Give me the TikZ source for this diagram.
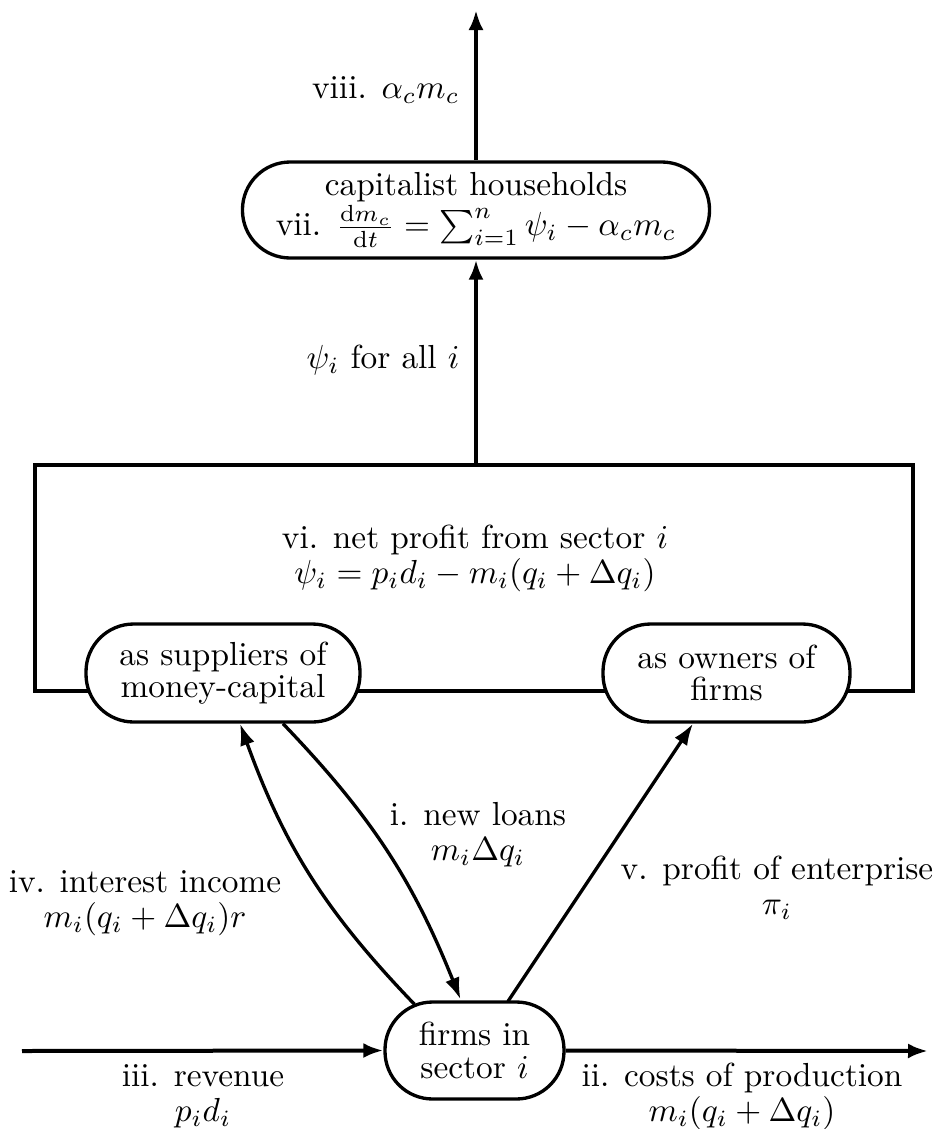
\documentclass[tikz,border=0pt]{standalone}
\usetikzlibrary{arrows.meta,calc}
\begin{document}
\begin{tikzpicture}[x=0.3pt,y=-0.3pt,
  box/.style={draw,line width=1pt,fill=white,rounded corners=14.3pt,align=center,inner xsep=10pt,inner ysep=0pt,font=\fontsize{10pt}{9.7pt}\selectfont},
  lab/.style={align=center,inner sep=0pt,font=\fontsize{10pt}{10.5pt}\selectfont},
  arr/.style={line width=1.2pt,-{Latex[length=6pt,width=4.5pt]}},
  carr/.style={line width=1pt,-{Latex[length=6.5pt,width=4.5pt]}}]
\useasboundingbox (0,0) rectangle (935,1129);
\node[draw,line width=1.2pt,minimum width=263.4pt,minimum height=67.8pt,inner sep=0pt] (sector) at (474,578) {};
\node[lab] (net) at (475,558) {vi. net profit from sector $i$\\ $\psi_i = p_i d_i - m_i(q_i+\Delta q_i)$};
\node[box,minimum width=137.4pt,minimum height=28.8pt] (cap) at (476,210) {capitalist households\\ vii. $\frac{\mathrm{d}m_c}{\mathrm{d}t} = \sum_{i=1}^n \psi_i - \alpha_c m_c$};
\node[box,minimum width=82.2pt,minimum height=29.4pt] (sup) at (223,673) {as suppliers of\\ money-capital};
\node[box,minimum width=74.1pt,minimum height=29.4pt] (own) at (726.5,673) {as owners of\\ firms};
\node[box,minimum width=53.7pt,minimum height=29.1pt] (firm) at (474.5,1050.5) {firms in\\ sector $i$};
\coordinate (topend) at (476,10);
\coordinate (lstart) at (22,1051);
\coordinate (rend) at (928,1051);
\draw[arr] (cap.north) -- (topend);
\draw[arr] (sector.north -| cap.south) -- (cap.south);
\draw[arr] (lstart) -- (firm.west);
\draw[arr] (firm.east) -- (rend);
\draw[carr] ($(sup.south)+(60,0)$) to[bend left=11] ($(firm.north)+(-14,-1)$);
\draw[carr] ($(firm.north)+(-60,4)$) to[bend left=12] ($(sup.south)+(17,0)$);
\draw[carr] ($(firm.north)+(33.5,1)$) -- ($(own.south)+(-33.5,0)$);
\node[lab,anchor=east] (l8) at (460,90) {viii. $\alpha_c m_c$};
\node[lab,anchor=east] (lpsi) at (460,360) {$\psi_i$ for all $i$};
\node[lab] (l1) at (478,835) {i. new loans\\ $m_i\Delta q_i$};
\node[lab] (l4) at (145,903) {iv. interest income\\ $m_i(q_i+\Delta q_i)r$};
\node[lab] (l5) at (777,888) {v. profit of enterprise\\ $\pi_i$};
\node[lab] (l3) at (203,1096) {iii. revenue\\ $p_i d_i$};
\node[lab] (l2) at (742,1096) {ii. costs of production\\ $m_i(q_i+\Delta q_i)$};
\end{tikzpicture}
\end{document}
